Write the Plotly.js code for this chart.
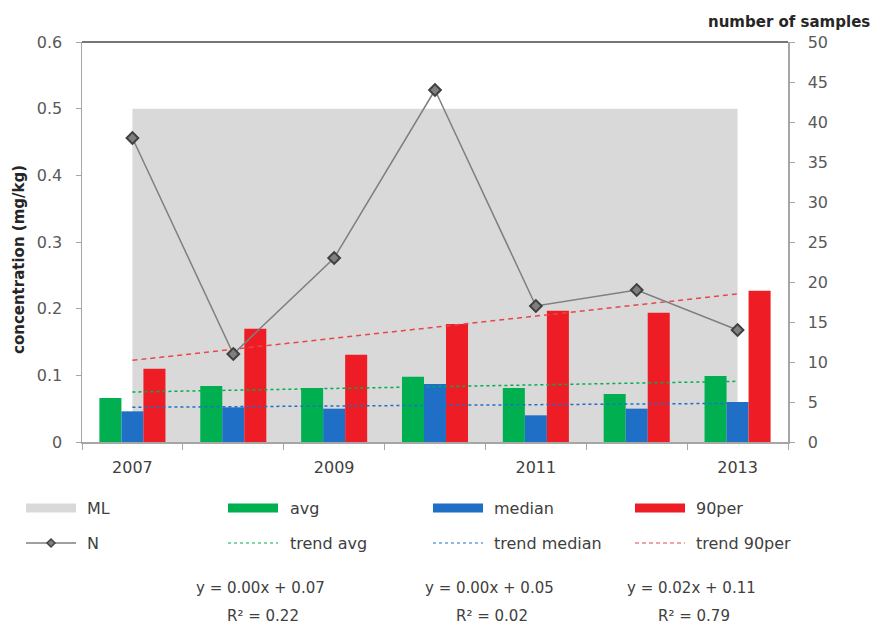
<!DOCTYPE html>
<html>
<head>
<meta charset="utf-8">
<script src="https://cdn.plot.ly/plotly-3.0.1.min.js"></script>
<style>
  html, body { margin: 0; padding: 0; background: #ffffff; }
  #chart { width: 874px; height: 626px; }
</style>
</head>
<body>
<div id="chart"></div>
<script>
// ---- data ----
const years = ['2007', '2008', '2009', '2010', '2011', '2012', '2013'];
const yearLabels = ['2007', '', '2009', '', '2011', '', '2013'];
const mlLevel = [0.5, 0.5, 0.5, 0.5, 0.5, 0.5, 0.5];
const avgValues = [0.066, 0.084, 0.081, 0.098, 0.081, 0.072, 0.099];
const medianValues = [0.046, 0.052, 0.050, 0.087, 0.040, 0.050, 0.060];
const per90Values = [0.110, 0.170, 0.131, 0.177, 0.197, 0.194, 0.227];
const sampleCounts = [38, 11, 23, 44, 17, 19, 14];
const seriesNames = ['ML', 'avg', 'median', '90per', 'N', 'trend avg', 'trend median', 'trend 90per'];
const trendEquations = ['y = 0.00x + 0.07', 'y = 0.00x + 0.05', 'y = 0.02x + 0.11'];
const trendR2 = ['R² = 0.22', 'R² = 0.02', 'R² = 0.79'];
const leftAxisTitle = 'concentration (mg/kg)';
const rightAxisTitle = 'number of samples';

// ---- colours ----
const C = {
  ml: '#d9d9d9',
  avg: '#00b050',
  median: '#1f6fc6',
  per90: '#ee1c25',
  per90Trend: '#e8474a',
  n: '#7f7f7f',
  nEdge: '#404040',
  axis: '#a6a6a6',
  text: '#404040',
  tick: '#595959',
  title: '#262626'
};
const FONT = '"DejaVu Sans", "Liberation Sans", Arial, sans-serif';

// least-squares linear trend over x = 1..n, evaluated at each point
function linearTrend(values) {
  const n = values.length;
  const xs = values.map((_, i) => i + 1);
  const mx = xs.reduce((a, b) => a + b, 0) / n;
  const my = values.reduce((a, b) => a + b, 0) / n;
  let sxy = 0, sxx = 0;
  xs.forEach((x, i) => { sxy += (x - mx) * (values[i] - my); sxx += (x - mx) * (x - mx); });
  const slope = sxy / sxx;
  const icpt = my - slope * mx;
  return xs.map(x => icpt + slope * x);
}

// ---- traces ----
const traces = [
  { // ML band (base subplot so it sits beneath the bars)
    type: 'scatter', mode: 'lines', x: years, y: mlLevel, name: seriesNames[0],
    fill: 'tozeroy', fillcolor: C.ml, line: { width: 0, color: C.ml },
    xaxis: 'x', yaxis: 'y', hoverinfo: 'skip'
  },
  { type: 'bar', x: years, y: avgValues, name: seriesNames[1], marker: { color: C.avg }, xaxis: 'x', yaxis: 'y2' },
  { type: 'bar', x: years, y: medianValues, name: seriesNames[2], marker: { color: C.median }, xaxis: 'x', yaxis: 'y2' },
  { type: 'bar', x: years, y: per90Values, name: seriesNames[3], marker: { color: C.per90 }, xaxis: 'x', yaxis: 'y2' },
  { type: 'scatter', mode: 'lines', x: years, y: linearTrend(avgValues), name: seriesNames[5],
    line: { color: C.avg, width: 1.5, dash: 'dot' }, xaxis: 'x', yaxis: 'y2' },
  { type: 'scatter', mode: 'lines', x: years, y: linearTrend(medianValues), name: seriesNames[6],
    line: { color: C.median, width: 1.5, dash: 'dot' }, xaxis: 'x', yaxis: 'y2' },
  { type: 'scatter', mode: 'lines', x: years, y: linearTrend(per90Values), name: seriesNames[7],
    line: { color: C.per90Trend, width: 1.5, dash: '5px,4px' }, xaxis: 'x', yaxis: 'y2' },
  { type: 'scatter', mode: 'lines+markers', x: years, y: sampleCounts, name: seriesNames[4],
    line: { color: C.n, width: 1.5 },
    marker: { symbol: 'diamond', size: 9, color: C.n, line: { color: C.nEdge, width: 2 } },
    xaxis: 'x', yaxis: 'y3' }
];

// ---- plot area geometry (pixels) ----
const L = 82, T = 42, W = 706, H = 400;
const px = x => (x - L) / W;
const py = y => (T + H - y) / H;

// ---- legend drawn beneath the plot ----
const colX = [26, 228, 433, 635];
const textX = [85, 288, 492, 694];
const row1 = 508, row2 = 543;
const swatchColors = [C.ml, C.avg, C.median, C.per90];
const shapes = [
  { type: 'line', xref: 'paper', yref: 'paper', x0: 0, x1: 1, y0: 1, y1: 1, line: { color: '#767676', width: 2 } }
];
const annotations = [];

swatchColors.forEach((col, i) => {
  shapes.push({ type: 'rect', xref: 'paper', yref: 'paper',
    x0: px(colX[i]), x1: px(colX[i] + 50), y0: py(row1 + 4.5), y1: py(row1 - 4.5),
    fillcolor: col, line: { width: 0 } });
});
// N entry: line with diamond
shapes.push({ type: 'line', xref: 'paper', yref: 'paper', x0: px(colX[0]), x1: px(colX[0] + 50),
  y0: py(row2), y1: py(row2), line: { color: C.n, width: 1.5 } });
shapes.push({ type: 'path', xref: 'paper', yref: 'paper',
  path: `M ${px(colX[0] + 25)} ${py(row2 - 4)} L ${px(colX[0] + 29)} ${py(row2)} L ${px(colX[0] + 25)} ${py(row2 + 4)} L ${px(colX[0] + 21)} ${py(row2)} Z`,
  fillcolor: C.n, line: { color: C.nEdge, width: 1.5 } });
// trend entries
const trendStyles = [
  { color: C.avg, dash: 'dot' },
  { color: C.median, dash: 'dot' },
  { color: C.per90Trend, dash: '4px,3px' }
];
trendStyles.forEach((s, i) => {
  shapes.push({ type: 'line', xref: 'paper', yref: 'paper', x0: px(colX[i + 1]), x1: px(colX[i + 1] + 50),
    y0: py(row2), y1: py(row2), line: { color: s.color, width: 1.2, dash: s.dash } });
});
// legend labels
const legendOrder = [[0, 1, 2, 3], [4, 5, 6, 7]];
legendOrder.forEach((row, r) => {
  row.forEach((idx, c) => {
    annotations.push({ xref: 'paper', yref: 'paper', x: px(textX[c]), y: py(r === 0 ? row1 : row2),
      xanchor: 'left', yanchor: 'middle', showarrow: false, text: seriesNames[idx],
      font: { family: FONT, size: 16, color: C.text } });
  });
});
// trend equations
const eqX = [260, 489, 691];
trendEquations.forEach((t, i) => {
  annotations.push({ xref: 'paper', yref: 'paper', x: px(eqX[i]), y: py(588), xanchor: 'center', yanchor: 'middle',
    showarrow: false, text: t, font: { family: FONT, size: 15, color: C.text } });
  annotations.push({ xref: 'paper', yref: 'paper', x: px(eqX[i] + 3), y: py(616), xanchor: 'center', yanchor: 'middle',
    showarrow: false, text: trendR2[i], font: { family: FONT, size: 15, color: C.text } });
});
// axis captions
annotations.push({ xref: 'paper', yref: 'paper', x: px(872), y: py(22), xanchor: 'right', yanchor: 'middle',
  showarrow: false, text: '<b>' + rightAxisTitle + '</b>', font: { family: FONT, size: 15, color: C.title } });
annotations.push({ xref: 'paper', yref: 'paper', x: px(19), y: py(260), xanchor: 'center', yanchor: 'middle',
  textangle: -90, showarrow: false, text: '<b>' + leftAxisTitle + '</b>', font: { family: FONT, size: 15, color: C.title } });

const layout = {
  width: 874, height: 626,
  margin: { l: L, r: 874 - L - W, t: T, b: 626 - T - H, pad: 0 },
  paper_bgcolor: '#ffffff', plot_bgcolor: '#ffffff',
  showlegend: false,
  barmode: 'group', bargap: 0.345, bargroupgap: 0,
  font: { family: FONT, size: 16, color: C.tick },
  xaxis: {
    type: 'category', range: [-0.5, 6.5],
    tickmode: 'array', tickvals: years, ticktext: yearLabels, tickson: 'boundaries',
    ticks: 'outside', ticklen: 6, tickcolor: C.axis, tickwidth: 1,
    showline: true, linecolor: C.axis, linewidth: 1.5,
    showgrid: false, zeroline: false, ticklabelstandoff: 10,
    tickfont: { family: FONT, size: 16, color: C.text }
  },
  yaxis: {
    range: [0, 0.6], dtick: 0.1, tick0: 0,
    ticks: 'outside', ticklen: 5, tickcolor: C.axis,
    showline: true, linecolor: C.axis, linewidth: 1.5,
    showgrid: false, zeroline: false, ticklabelstandoff: 10,
    tickfont: { family: FONT, size: 16, color: C.tick }
  },
  yaxis2: { overlaying: 'y', range: [0, 0.6], visible: false },
  yaxis3: {
    overlaying: 'y', side: 'right', range: [0, 50], dtick: 5, tick0: 0,
    ticks: 'outside', ticklen: 5, tickcolor: C.axis,
    showline: true, linecolor: C.axis, linewidth: 1.5,
    showgrid: false, zeroline: false, ticklabelstandoff: 10,
    tickfont: { family: FONT, size: 16, color: C.tick }
  },
  shapes: shapes,
  annotations: annotations
};

Plotly.newPlot('chart', traces, layout, { displayModeBar: false, staticPlot: true });
</script>
</body>
</html>
